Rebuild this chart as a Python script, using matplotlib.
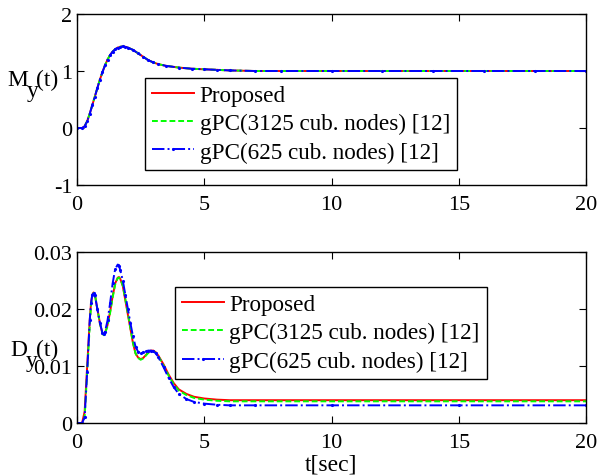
import matplotlib
matplotlib.use("Agg")
import matplotlib.pyplot as plt

plt.rcParams['font.family'] = ['Liberation Serif', 'DejaVu Serif']
plt.rcParams['axes.unicode_minus'] = False

# ---- data: mean M_y(t) ----
t_m = [0, 0.2, 0.3, 0.4, 0.5, 0.6, 0.7, 0.8, 0.9, 1.0, 1.1, 1.2, 1.3, 1.4, 1.5,
       1.6, 1.7, 1.8, 1.9, 2.0, 2.2, 2.4, 2.6, 2.8, 3.0, 3.2, 3.5, 4.0, 4.5,
       5.0, 5.5, 6.0, 7.0, 8.0, 10.0, 12.0, 14.0, 16.0, 18.0, 20.0]
m_prop = [0, 0.0, 0.03, 0.12, 0.25, 0.40, 0.55, 0.70, 0.85, 0.98, 1.10, 1.20,
          1.28, 1.34, 1.38, 1.41, 1.425, 1.43, 1.425, 1.41, 1.37, 1.31, 1.25,
          1.19, 1.15, 1.12, 1.09, 1.06, 1.04, 1.03, 1.02, 1.01, 1.0, 1.0, 1.0,
          1.0, 1.0, 1.0, 1.0, 1.0]
m_g3125 = [0, 0.0, 0.03, 0.12, 0.25, 0.40, 0.55, 0.70, 0.85, 0.98, 1.10, 1.20,
           1.28, 1.34, 1.38, 1.41, 1.425, 1.43, 1.425, 1.41, 1.37, 1.31, 1.25,
           1.19, 1.15, 1.12, 1.09, 1.06, 1.04, 1.03, 1.02, 1.01, 1.0, 1.0, 1.0,
           1.0, 1.0, 1.0, 1.0, 1.0]
m_g625 = [0, 0.0, 0.03, 0.12, 0.25, 0.40, 0.55, 0.70, 0.85, 0.98, 1.10, 1.20,
          1.28, 1.34, 1.38, 1.41, 1.425, 1.43, 1.425, 1.41, 1.37, 1.31, 1.25,
          1.19, 1.15, 1.12, 1.09, 1.06, 1.04, 1.03, 1.02, 1.01, 1.0, 1.0, 1.0,
          1.0, 1.0, 1.0, 1.0, 1.0]

# ---- data: variance D_y(t) ----
t_d = [0, 0.2, 0.3, 0.4, 0.5, 0.55, 0.6, 0.65, 0.7, 0.8, 0.9, 1.0, 1.05, 1.1,
       1.2, 1.3, 1.4, 1.5, 1.6, 1.65, 1.7, 1.8, 1.9, 2.0, 2.1, 2.2, 2.3, 2.4,
       2.5, 2.6, 2.7, 2.8, 2.9, 3.0, 3.1, 3.2, 3.4, 3.6, 3.8, 4.0, 4.3, 4.6,
       5.0, 5.5, 6.0, 7.0, 10.0, 15.0, 20.0]
d_prop = [0, 0.0, 0.002, 0.010, 0.018, 0.021, 0.0225, 0.0229, 0.0226, 0.0200,
          0.0175, 0.0157, 0.0155, 0.0158, 0.0172, 0.0195, 0.0222, 0.0245,
          0.0255, 0.0256, 0.0253, 0.0240, 0.0215, 0.0190, 0.0165, 0.0140,
          0.0122, 0.0115, 0.0112, 0.0114, 0.0119, 0.0124, 0.0127, 0.0127,
          0.0124, 0.0118, 0.0103, 0.0085, 0.0070, 0.0059, 0.0051, 0.0046,
          0.0043, 0.0041, 0.0040, 0.0040, 0.0040, 0.0040, 0.0040]
d_g3125 = [0, 0.0, 0.001, 0.009, 0.017, 0.0205, 0.0223, 0.0228, 0.0226,
           0.0200, 0.0175, 0.0157, 0.0154, 0.0157, 0.0170, 0.0193, 0.0220,
           0.0243, 0.0254, 0.0255, 0.0253, 0.0241, 0.0217, 0.0192, 0.0166,
           0.0141, 0.0122, 0.0114, 0.0111, 0.0113, 0.0118, 0.0123, 0.0126,
           0.0126, 0.0123, 0.0117, 0.0101, 0.0083, 0.0068, 0.0057, 0.0049,
           0.0044, 0.0041, 0.0039, 0.0038, 0.0038, 0.0038, 0.0038, 0.0038]
d_g625 = [0, 0.0, 0.001, 0.009, 0.018, 0.021, 0.0225, 0.0228, 0.0225, 0.0200,
          0.0176, 0.0158, 0.0156, 0.0160, 0.0180, 0.0210, 0.0245, 0.0270,
          0.0278, 0.0276, 0.0268, 0.0250, 0.0225, 0.0200, 0.0175, 0.0152,
          0.0134, 0.0125, 0.0123, 0.0124, 0.0126, 0.0127, 0.0127, 0.0126,
          0.0122, 0.0115, 0.0098, 0.0079, 0.0063, 0.0051, 0.0042, 0.0037,
          0.0034, 0.0032, 0.0031, 0.0031, 0.0031, 0.0031, 0.0031]

labels = ['Proposed', 'gPC(3125 cub. nodes) [12]', 'gPC(625 cub. nodes) [12]']
x_ticks = [0, 5, 10, 15, 20]
m_ticks = [-1, 0, 1, 2]
d_ticks = [0, 0.01, 0.02, 0.03]
d_ticklabels = ['0', '0.01', '0.02', '0.03']

W, H = 597, 477
fig = plt.figure(figsize=(W / 100, H / 100), dpi=100)


def px_axes(l, t, r, b):
    return fig.add_axes([l / W, 1 - b / H, (r - l) / W, (b - t) / H])


ax1 = px_axes(77, 15, 586, 186)
ax2 = px_axes(77, 253, 586, 424)

red, green, blue = '#ff0000', '#00ff00', '#0000ff'
lw = 1.4


def draw(ax, t, a, b, c):
    ax.plot(t, a, '-', color=red, lw=lw, label=labels[0])
    ax.plot(t, b, '--', color=green, lw=lw, label=labels[1], dashes=(3, 1.5))
    ax.plot(t, c, '-.', color=blue, lw=lw, label=labels[2], marker='.',
            markersize=2.5)


draw(ax1, t_m, m_prop, m_g3125, m_g625)
draw(ax2, t_d, d_prop, d_g3125, d_g625)

ax1.set_xlim(0, 20)
ax1.set_ylim(-1, 2)
ax1.set_xticks(x_ticks)
ax1.set_yticks(m_ticks)
ax2.set_xlim(0, 20)
ax2.set_ylim(0, 0.03)
ax2.set_xticks(x_ticks)
ax2.set_yticks(d_ticks)
ax2.set_yticklabels(d_ticklabels)

for ax in (ax1, ax2):
    ax.tick_params(direction='in', top=True, right=True, length=5,
                   width=0.8, labelsize=16)
    ax.tick_params(axis='x', pad=7)
    ax.tick_params(axis='y', pad=3.5)
    for s in ax.spines.values():
        s.set_linewidth(1.0)

leg_kw = dict(loc='upper left', fontsize=16.7, frameon=True, fancybox=False,
              edgecolor='black', framealpha=1, borderpad=0.3,
              labelspacing=0.3, handlelength=1.8, handletextpad=0.25,
              borderaxespad=0)
l1 = ax1.legend(bbox_to_anchor=(0.1336, 0.6257), **leg_kw)
l2 = ax2.legend(bbox_to_anchor=(0.1925, 0.795), **leg_kw)
for l in (l1, l2):
    l.get_frame().set_linewidth(1.0)

ax2.set_xlabel('t[sec]', fontsize=17, labelpad=1)


def fig_text(x, y, s, size):
    fig.text(x / W, 1 - y / H, s, fontsize=size, ha='left', va='baseline')


fig_text(7, 86, 'M', 17)
fig_text(27, 97, 'y', 17)
fig_text(36, 86, '(t)', 17)
fig_text(10, 356, 'D', 17)
fig_text(26, 367, 'y', 17)
fig_text(36, 356, '(t)', 17)

fig.savefig('out.png', dpi=100)
